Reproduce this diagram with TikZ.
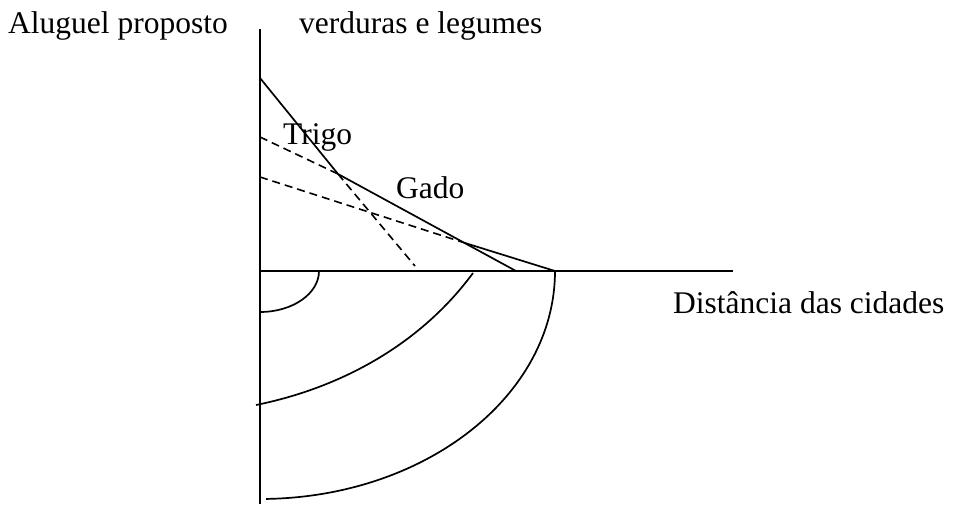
\documentclass[tikz,border=0pt]{standalone}
\usepackage{fontspec}
\setmainfont{Liberation Serif}
\begin{document}
\begin{tikzpicture}[x=1pt,y=-1pt,
  ln/.style={line width=1.7pt,black},
  dsh/.style={line width=1.6pt,black,dash pattern=on 8pt off 5pt},
  lbl/.style={anchor=base west,inner sep=0pt,font=\fontsize{31.5}{36}\selectfont}]
\useasboundingbox (0,0) rectangle (954,506);
% axes
\coordinate (ytop) at (260,29);
\coordinate (ybot) at (260,504);
\coordinate (o) at (260,271);
\coordinate (xend) at (733,271);
\draw[ln] (ytop) -- (ybot);
\draw[ln] (o) -- (xend);
% rent lines
\coordinate (v0) at (260,78);
\coordinate (k1) at (338,174);
\coordinate (v1) at (415,266);
\coordinate (t0) at (260,137);
\coordinate (t1) at (516,271);
\coordinate (g0) at (260,177);
\coordinate (k2) at (465,243);
\coordinate (g1) at (555,271);
\draw[ln] (v0) -- (k1);
\draw[dsh] (k1) -- (v1);
\draw[dsh] (t0) -- (k1);
\draw[ln] (k1) -- (t1);
\draw[dsh] (g0) -- (k2);
\draw[ln] (k2) -- (g1);
% rings
\draw[ln] (319,271) arc[start angle=0,end angle=-90,x radius=59,y radius=-41];
\coordinate (m0) at (473,273);
\coordinate (m1) at (256,405);
\draw[ln] (m0) .. controls (420,345) and (340,388) .. (m1);
\draw[ln] (g1) arc[start angle=0,end angle=-88.8,x radius=295,y radius=-228];
% labels
\node[lbl] (aluguel) at (8,33) {Aluguel proposto};
\node[lbl] (verd) at (299,33) {verduras e legumes};
\node[lbl] (trigo) at (283,144) {Trigo};
\node[lbl] (gado) at (396,198) {Gado};
\node[lbl] (dist) at (673,313) {Distância das cidades};
\end{tikzpicture}
\end{document}
